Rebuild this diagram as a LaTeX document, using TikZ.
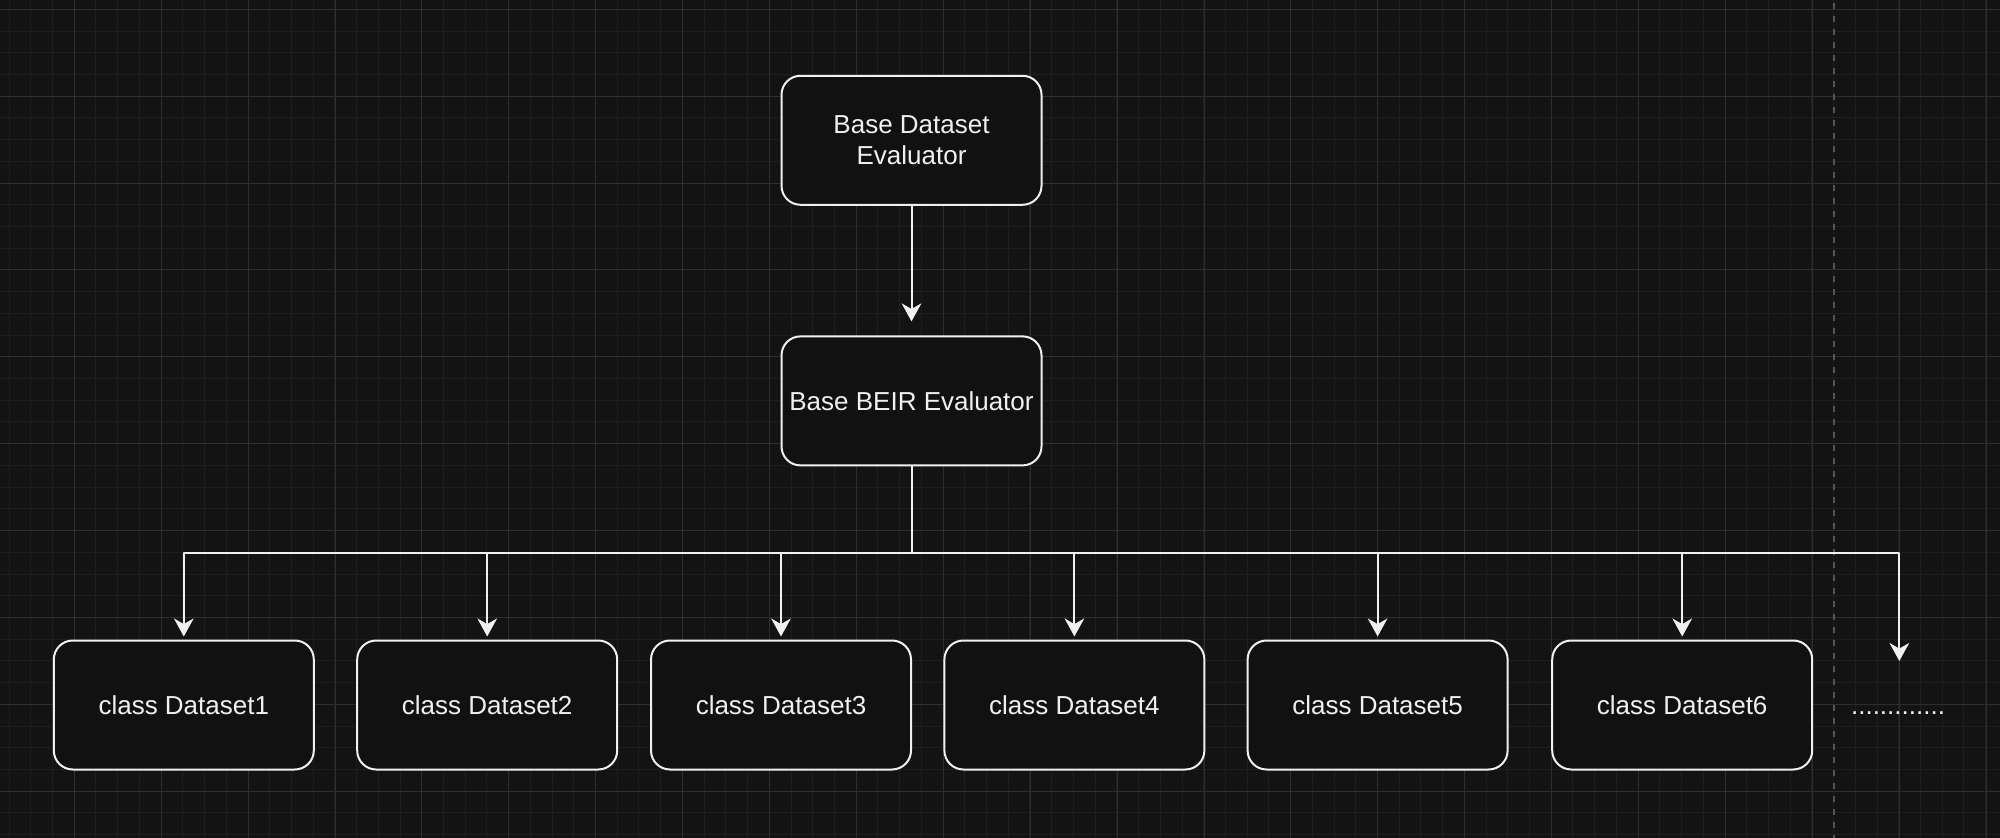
\documentclass[tikz,border=0pt]{standalone}
\usepackage{fontspec}
\setmainfont{Liberation Sans}
\usetikzlibrary{arrows.meta}
\definecolor{canvas}{HTML}{131313}
\definecolor{boxfill}{HTML}{111111}
\definecolor{ink}{HTML}{F0F0F0}
\definecolor{gridminor}{HTML}{1E1E1E}
\definecolor{gridmajor}{HTML}{2E2E2E}
\definecolor{divider}{HTML}{555555}
\begin{document}
\begin{tikzpicture}
	[
		x=0.5pt,
		y=-0.5pt,
		line cap=butt,
		line join=round,
		>={Stealth[length=9pt,width=9.8pt,inset=2.8pt]},
		classbox/.style={draw=ink,fill=boxfill,text=ink,line width=1pt,
			rounded corners=9.5pt,minimum width=130pt,minimum height=64.5pt,
			inner sep=0pt,align=center,font=\fontsize{13pt}{15.8pt}\selectfont},
		link/.style={->,draw=ink,line width=1pt}
	]
		\useasboundingbox (0,0) rectangle (2000,838);
		\fill [canvas] (0,0) rectangle (2000,838);
		% grid
		\foreach \i in {0,...,91}
			\draw [gridminor,line width=0.5pt] ({9.1+21.72*\i},0) -- ({9.1+21.72*\i},838);
		\foreach \i in {0,...,38}
			\draw [gridminor,line width=0.5pt] (0,{9.3+21.72*\i}) -- (2000,{9.3+21.72*\i});
		\foreach \i in {0,...,22}
			\draw [gridmajor,line width=0.5pt] ({74.3+86.9*\i},0) -- ({74.3+86.9*\i},838);
		\foreach \i in {0,...,9}
			\draw [gridmajor,line width=0.5pt] (0,{9.3+86.9*\i}) -- (2000,{9.3+86.9*\i});
		\draw [divider,line width=1pt,dash pattern=on 3pt off 3.5pt] (1834.3,3) -- (1834.3,838);
		% nodes
		\node[classbox] (base) at (911.5,140.3) {Base Dataset\\Evaluator};
		\node[classbox] (beir) at (911.5,400.9) {Base BEIR Evaluator};
		\node[classbox] (ds1) at (183.8,705) {class Dataset1};
		\node[classbox] (ds2) at (487.2,705) {class Dataset2};
		\node[classbox] (ds3) at (781,705) {class Dataset3};
		\node[classbox] (ds4) at (1074.4,705) {class Dataset4};
		\node[classbox] (ds5) at (1377.6,705) {class Dataset5};
		\node[classbox] (ds6) at (1682.2,705) {class Dataset6};
		\node[text=ink,anchor=base,inner sep=0pt,font=\fontsize{13pt}{15pt}\selectfont] (more) at (1898,714) {.............};
		\coordinate (bus) at (911.5,553);
		\coordinate (moretip) at (1899.3,661);
		% connectors
		\draw [link,shorten >=7pt] (base) -- (beir);
		\foreach \n in {ds1,ds2,ds3,ds4,ds5,ds6}
			\draw [link,shorten >=1.5pt] (beir.south) -- (beir.south |- bus) -| (\n.north);
		\draw [link] (beir.south) -- (beir.south |- bus) -| (moretip);
\end{tikzpicture}
\end{document}
